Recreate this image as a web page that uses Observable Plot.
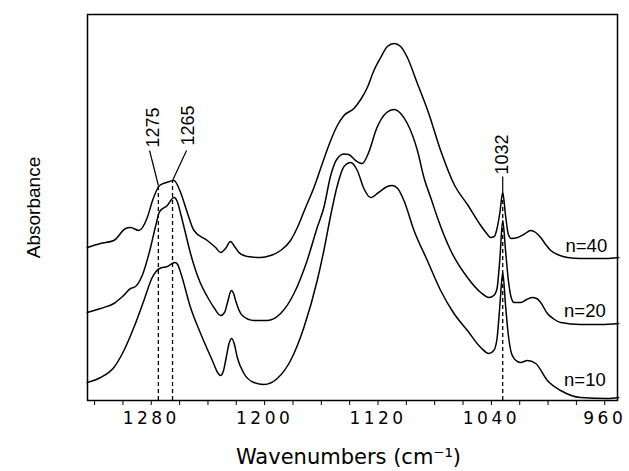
<!DOCTYPE html>
<html><head><meta charset="utf-8">
<script src="https://cdn.jsdelivr.net/npm/d3@7"></script>
<script src="https://cdn.jsdelivr.net/npm/@observablehq/plot@0.6"></script>
<style>
body{margin:0;background:#fff;}
g[aria-label="x-axis tick label"] text{letter-spacing:3.5px;}
g[aria-label="xtitle"] text{letter-spacing:4px;}
</style></head><body><div id="chart"></div>
<script>
// ---- data ----
const wn40 = [1325.2,1315.8,1306.4,1298.1,1294.6,1288.8,1282.8,1279.1,1274.1,1269.2,1264.0,1259.3,1254.6,1249.9,1240.5,1234.6,1231.1,1227.6,1224.1,1221.2,1218.2,1212.2,1202.8,1195.8,1188.7,1181.7,1176.9,1171.1,1165.2,1160.5,1153.4,1148.7,1144.0,1137.0,1132.2,1127.5,1122.9,1118.1,1113.4,1108.7,1104.0,1099.3,1092.2,1084.2,1075.8,1065.9,1056.9,1047.5,1043.3,1040.5,1038,1036,1034,1032,1030,1028,1026,1021.5,1017.1,1012.2,1008.7,1005.2,1001.7,998.1,992.5,986.3,976.9,967.6,959.3,950.1];
const abs40 = [1.53,1.57,1.60,1.72,1.73,1.70,1.83,2.00,2.15,2.18,2.20,2.08,1.88,1.70,1.60,1.53,1.48,1.52,1.59,1.54,1.48,1.44,1.43,1.45,1.50,1.60,1.73,1.93,2.13,2.32,2.60,2.75,2.85,2.92,3.01,3.13,3.30,3.43,3.54,3.57,3.54,3.43,3.17,2.87,2.50,2.15,1.96,1.75,1.67,1.63,1.64,1.72,1.88,2.08,1.85,1.66,1.62,1.63,1.66,1.70,1.68,1.63,1.56,1.50,1.455,1.43,1.42,1.42,1.42,1.43];

const wn20 = [1325.2,1315.8,1306.4,1300.3,1294.6,1291.1,1286.4,1280.5,1277.0,1274.1,1268.7,1264.0,1261.4,1259.3,1255.8,1252.3,1245.2,1240.5,1235.8,1231.1,1228.3,1226.2,1223.5,1221.9,1220.5,1215.8,1207.6,1198.1,1188.7,1179.3,1170.0,1162.9,1158.2,1153.4,1148.7,1144.0,1140.7,1135.8,1131.1,1126.6,1121.0,1113.9,1108.7,1104.0,1099.3,1092.2,1087.6,1082.1,1078.1,1068.7,1056.9,1047.5,1041.7,1038.3,1036,1034,1032,1030,1028,1026,1024,1019.3,1015.1,1011.0,1008.0,1005.2,1000.5,996.0,991.1,977.0,962.9,950.1];
const abs20 = [0.88,0.92,0.97,1.04,1.12,1.14,1.25,1.53,1.74,1.89,1.95,2.03,1.98,1.87,1.67,1.47,1.17,1.04,0.93,0.85,0.88,0.98,1.10,1.07,1.00,0.85,0.80,0.80,0.87,1.07,1.40,1.73,1.93,2.25,2.42,2.465,2.46,2.40,2.37,2.48,2.72,2.88,2.91,2.87,2.77,2.50,2.23,2.00,1.83,1.50,1.23,1.08,1.03,1.05,1.12,1.42,1.80,1.50,1.20,1.03,0.98,0.98,1.01,1.03,1.02,0.98,0.87,0.815,0.78,0.76,0.76,0.77];

const wn10 = [1325.2,1315.8,1306.4,1299.3,1292.3,1285.2,1279.3,1274.1,1268.7,1263.3,1261.4,1259.3,1252.3,1245.2,1236.9,1233.2,1231.1,1229.0,1227.1,1225.1,1223.3,1221.5,1219.3,1214.6,1207.6,1200.5,1191.1,1181.7,1172.3,1162.9,1158.2,1153.4,1148.7,1144.0,1139.3,1134.6,1130.0,1125.2,1119.6,1113.4,1109.9,1106.1,1101.7,1094.6,1085.2,1075.8,1066.4,1056.9,1047.5,1041.7,1038.3,1036,1034,1032,1030,1028,1026,1024,1019.3,1014.6,1008.7,1000.5,991.1,977.0,958.1,950.1];
const abs10 = [0.18,0.23,0.33,0.50,0.73,1.00,1.23,1.32,1.34,1.38,1.36,1.28,0.93,0.67,0.40,0.28,0.25,0.30,0.43,0.57,0.62,0.57,0.43,0.27,0.18,0.16,0.22,0.40,0.73,1.20,1.50,1.85,2.15,2.34,2.38,2.30,2.12,2.03,2.08,2.14,2.15,2.12,2.00,1.70,1.40,1.10,0.87,0.70,0.53,0.47,0.50,0.62,0.95,1.28,0.95,0.65,0.48,0.42,0.38,0.40,0.37,0.20,0.10,0.03,0.02,0.03];

const seriesNames = ["n=40", "n=20", "n=10"];
const seriesLabelWn = [973, 974, 974];
const seriesLabelAbs = [1.54, 0.89, 0.20];

const peakLabels = ["1275", "1265", "1032"];
const peakWn = [1275, 1265, 1032];
const peakTopAbs = [2.15, 2.20, 2.08];        // where dashed line meets n=40 curve
const peakLabelWn = [1278.4, 1253.7, 1032];   // label anchor
const peakLabelAbs = [2.53, 2.55, 2.26];
const leaderStartWn = [1281.2, 1255.1, 1032];
const leaderStartAbs = [2.50, 2.50, 2.24];

const xTicks = [960,980,1000,1020,1040,1060,1080,1100,1120,1140,1160,1180,1200,1220,1240,1260,1280,1300,1320];
const xTickLabels = [960, 1040, 1120, 1200, 1280];

// ---- build tables ----
const wnArr = [wn40, wn20, wn10];
const absArr = [abs40, abs20, abs10];
const lineData = seriesNames.flatMap((name, k) => wnArr[k].map((w, i) => ({series: name, wn: w, a: absArr[k][i]})));
const seriesLabels = seriesNames.map((name, k) => ({name, wn: seriesLabelWn[k], a: seriesLabelAbs[k]}));
const peaks = peakLabels.map((label, k) => ({
  label, wn: peakWn[k], top: peakTopAbs[k], lx: peakLabelWn[k], ly: peakLabelAbs[k],
  sx: leaderStartWn[k], sy: leaderStartAbs[k]
}));

const chart = Plot.plot({
  width: 629, height: 471,
  marginLeft: 87, marginRight: 12, marginTop: 14, marginBottom: 71,
  style: {fontFamily: "DejaVu Sans", background: "white", color: "black"},
  x: {domain: [1325, 951]},
  y: {domain: [0, 3.86], axis: null},
  marks: [
    Plot.axisX({ticks: xTicks, tickSize: 5, tickPadding: 6, fontSize: 17, label: null,
      tickFormat: d => xTickLabels.includes(d) ? String(d) : ""}),
    Plot.ruleX(peaks, {x: "wn", y1: 0, y2: "top", stroke: "black", strokeWidth: 1.3, strokeDasharray: "4,3"}),
    Plot.line(lineData, {x: "wn", y: "a", z: "series", stroke: "black", strokeWidth: 1.5, curve: "monotone-x"}),
    Plot.link(peaks, {x1: "sx", y1: "sy", x2: "wn", y2: "top", stroke: "black", strokeWidth: 1.2}),
    Plot.text(peaks, {x: "lx", y: "ly", text: "label", rotate: -90, textAnchor: "start",
      fontSize: 18, fontFamily: "Liberation Sans", fill: "black"}),
    Plot.text(seriesLabels, {x: "wn", y: "a", text: "name", fontSize: 18.5, fontFamily: "Liberation Sans", fill: "black"}),
    Plot.text(["Wavenumbers (cm⁻¹)"], {frameAnchor: "bottom", dy: 63, dx: -4, fontSize: 21, fill: "black", ariaLabel: "xtitle"}),
    Plot.text(["Absorbance"], {frameAnchor: "left", dx: -54, rotate: -90, textAnchor: "middle", lineAnchor: "middle",
      fontSize: 19, fontFamily: "Liberation Sans", fill: "black"}),
    Plot.frame({stroke: "black", strokeWidth: 1.5})
  ]
});
document.getElementById("chart").append(chart);
</script></body></html>
